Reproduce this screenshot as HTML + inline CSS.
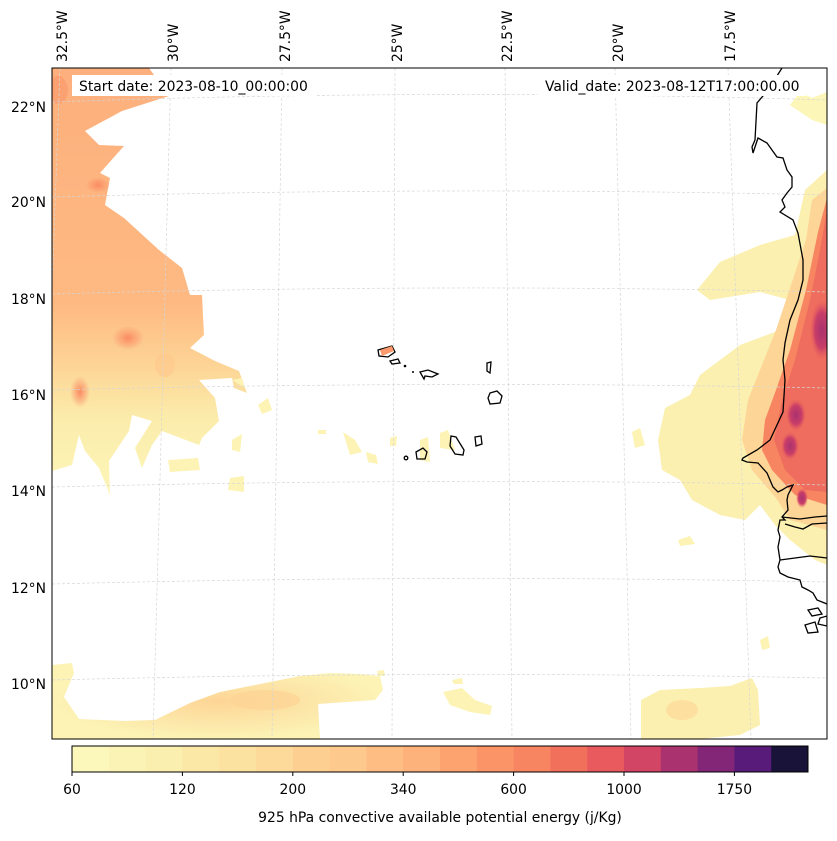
<!DOCTYPE html>
<html><head><meta charset="utf-8"><style>
body{margin:0;background:#fff;font-family:"Liberation Sans","DejaVu Sans",sans-serif}
svg text{font-family:"DejaVu Sans","Liberation Sans",sans-serif;font-size:13.9px;fill:#000}
</style></head><body>
<svg id="fig" width="837" height="836" viewBox="0 0 837 836" xmlns="http://www.w3.org/2000/svg">
<defs>
<clipPath id="mapclip"><rect x="52" y="68" width="775" height="671"/></clipPath>
<linearGradient id="leftg" x1="0" y1="68" x2="0" y2="495" gradientUnits="userSpaceOnUse">
<stop offset="0" stop-color="#fdb07d"/><stop offset="0.55" stop-color="#feb982"/><stop offset="0.7" stop-color="#fdd596"/><stop offset="0.82" stop-color="#fbecab"/><stop offset="1" stop-color="#fcf6b8"/>
</linearGradient>
<radialGradient id="hot1"><stop offset="0" stop-color="#fa8c64"/><stop offset="1" stop-color="#fa8c64" stop-opacity="0"/></radialGradient>
<radialGradient id="purp"><stop offset="0" stop-color="#a9326f"/><stop offset="0.6" stop-color="#c93e68"/><stop offset="1" stop-color="#e85a5e" stop-opacity="0"/></radialGradient>
<radialGradient id="botg"><stop offset="0" stop-color="#fdd596"/><stop offset="1" stop-color="#fcf3b5"/></radialGradient>
</defs>
<g clip-path="url(#mapclip)">
 <path fill="url(#leftg)" d="M52,68 L149,68 L169,96 L122,111 L85,131 L99,145 L124,146 L100,173 L110,178 L105,205 L124,218 L159,250 L182,268 L190,295 L202,295 L204,335 L190,348 L215,361 L239,371 L247,393 L234,388 L232,378 L199,380 L215,398 L219,421 L202,438 L199,445 L162,431 L152,445 L142,468 L135,448 L152,421 L132,415 L129,431 L109,461 L110,495 L99,468 L85,451 L79,435 L72,465 L52,471 Z"/>
 <ellipse cx="128" cy="338" rx="16" ry="12" fill="url(#hot1)"/>
 <ellipse cx="80" cy="392" rx="10" ry="16" fill="url(#hot1)"/>
 <ellipse cx="98" cy="185" rx="12" ry="8" fill="url(#hot1)"/>
 <ellipse cx="165" cy="365" rx="10" ry="12" fill="#fdc98c" opacity="0.7"/>
 <ellipse cx="58" cy="90" rx="10" ry="14" fill="#fb9a6c" opacity="0.7"/>
 <path fill="#fcf3b5" d="M168,460 L198,458 L200,470 L170,472 Z M230,478 L244,476 L244,492 L228,490 Z M258,405 L268,398 L272,410 L262,414 Z M232,440 L242,434 L240,452 L232,450 Z M318,430 L326,430 L326,434 L318,434 Z M343,432 L355,440 L362,452 L350,455 Z M366,452 L376,455 L378,464 L368,462 Z M390,438 L397,436 L396,446 L390,446 Z M232,380 L242,378 L245,388 Z"/>
 <path fill="#fcf3b5" d="M440,433 L448,430 L455,450 L440,448 Z M420,440 L428,437 L430,462 L420,460 Z M632,432 L640,428 L645,445 L635,448 Z M678,540 L690,536 L695,544 L680,546 Z M760,640 L768,636 L770,648 L762,650 Z"/>
 <path fill="url(#botg)" d="M52,665 L72,663 L74,673 L64,697 L79,719 L125,721 L155,720 L190,703 L220,692 L270,682 L300,676 L330,673 L360,674 L380,676 L383,690 L375,700 L318,704 L320,739 L52,739 Z"/>
 <ellipse cx="265" cy="700" rx="35" ry="10" fill="#fdd596" opacity="0.8"/>
 <path fill="#fcf3b5" d="M443,692 L462,688 L475,700 L492,706 L490,715 L470,712 L450,705 Z M452,680 L462,678 L463,684 L454,684 Z M377,671 L384,670 L385,676 L378,676 Z"/>
 <path fill="#fcf0b0" d="M641,700 L660,690 L700,688 L730,686 L752,678 L758,690 L760,725 L740,735 L700,739 L641,739 Z"/>
 <ellipse cx="682" cy="710" rx="16" ry="10" fill="#fcdc9c" opacity="0.8"/>
 <path fill="#fbf0b0" d="M827,170 L805,190 L795,235 L760,245 L720,262 L697,290 L710,300 L760,292 L790,300 L780,330 L740,345 L700,375 L690,395 L665,408 L658,440 L662,470 L680,480 L692,500 L720,515 L745,520 L760,505 L775,525 L790,540 L815,560 L827,565 Z"/>
 <path fill="#fcf6b8" d="M790,105 L800,92 L812,98 L827,92 L827,125 L812,120 Z"/>
 <path fill="#fdd596" d="M827,188 L812,200 L806,240 L792,282 L776,330 L760,370 L748,400 L742,440 L752,470 L776,498 L790,520 L827,530 Z"/>
 <path fill="#f88561" d="M827,198 L818,232 L806,290 L790,350 L776,390 L765,420 L762,450 L772,470 L795,495 L827,505 Z"/>
 <path fill="#ee6d5e" d="M827,210 L820,250 L810,300 L795,360 L782,400 L774,440 L785,470 L805,490 L827,492 Z"/>
 <ellipse cx="822" cy="330" rx="12" ry="30" fill="url(#purp)"/>
 <ellipse cx="796" cy="415" rx="10" ry="16" fill="url(#purp)"/>
 <ellipse cx="790" cy="446" rx="9" ry="14" fill="url(#purp)"/>
 <ellipse cx="802" cy="498" rx="6" ry="10" fill="url(#purp)"/>
</g>
<g fill="none" stroke="#d6d6d6" stroke-width="0.7" stroke-dasharray="3,2" clip-path="url(#mapclip)">
 <path d="M52,102 Q440,88 827,100"/><path d="M52,197 Q440,186 827,195"/><path d="M52,294 Q440,283 827,292"/><path d="M52,390 Q440,380 827,388"/><path d="M52,487 Q440,477 827,485"/><path d="M52,584 Q440,574 827,582"/><path d="M52,680 Q440,670 827,678"/>
 <path d="M171,68 L153,739"/><path d="M282,68 L272,739"/><path d="M395,68 L392,739"/><path d="M505,68 L512,739"/><path d="M615,68 L631,739"/><path d="M728,68 L751,739"/><path d="M60,68 L36,739"/>
</g>
<g fill="none" stroke="#000" stroke-width="1.3" clip-path="url(#mapclip)">
 <path d="M782,68 L768,90 L757,103 L755,140 L752,147 L753,153 L758,138 L767,143 L777,157 L783,158 L787,170 L792,177 L792,187 L787,193 L782,200 L785,207 L780,212 L793,220 L798,233 L803,260 L803,280 L798,300 L790,320 L785,343 L783,360 L785,380 L783,412 L770,440 L757,450 L743,458 L742,460 L747,462 L758,463 L767,473 L773,487 L778,492 L782,490 L787,487 L793,485 L788,495 L787,500 L788,510 L782,517 L785,520 L780,520 L778,530 L780,537 L778,547 L780,560 L778,567 L780,573 L788,577 L800,580 L802,587 L808,590 L813,593 L817,600 L827,604"/>
 <path d="M782,517 L800,519 L815,517 L827,516"/>
 <path d="M785,524 L795,527 L803,529 L812,524 L827,523"/>
 <path d="M780,560 L795,558 L810,556 L827,558"/>
 <path d="M808,610 L818,608 L822,614 L812,616 Z M820,618 L827,616 L827,626 L818,624 Z M805,625 L815,622 L818,632 L808,633 Z"/>
 <path d="M378,350 L392,346 L395,352 L388,357 L379,356 Z"/>
 <path d="M390,361 L398,359 L400,363 L392,364 Z"/>
 <path d="M420,372 L428,370 L438,374 L432,377 L425,376 L424,379 Z"/>
 <path d="M487,363 L491,362 L490,373 L487,371 Z"/>
 <path d="M490,393 L497,391 L502,396 L500,403 L490,404 L488,398 Z"/>
 <path d="M451,436 L456,437 L464,450 L463,455 L455,454 L450,446 Z"/>
 <path d="M475,437 L481,436 L482,444 L476,446 Z"/>
 <path d="M416,452 L423,448 L427,452 L425,459 L417,459 Z"/>
 <circle cx="406" cy="458" r="1.8"/>
</g>
<path d="M380,350 L392,346 L394,351 L382,356 Z" fill="#fb9a6c" clip-path="url(#mapclip)"/>
<circle cx="405" cy="366" r="1.3" fill="#000"/><circle cx="413" cy="372" r="1" fill="#000"/>
<rect x="52" y="68" width="775" height="671" fill="none" stroke="#000" stroke-width="1"/>
<rect x="72" y="75" width="244" height="21" fill="#fff"/>
<text x="79" y="91">Start date: 2023-08-10_00:00:00</text>
<rect x="538" y="75" width="268" height="21" fill="#fff"/>
<text x="545" y="91">Valid_date: 2023-08-12T17:00:00.00</text>
<g text-anchor="end">
<text x="46" y="112">22°N</text><text x="46" y="207">20°N</text><text x="46" y="304">18°N</text><text x="46" y="400">16°N</text><text x="46" y="496">14°N</text><text x="46" y="593">12°N</text><text x="46" y="689">10°N</text>
</g>
<g text-anchor="start">
<text transform="translate(67,62) rotate(-90)">32.5°W</text>
<text transform="translate(178,62) rotate(-90)">30°W</text>
<text transform="translate(290,62) rotate(-90)">27.5°W</text>
<text transform="translate(402,62) rotate(-90)">25°W</text>
<text transform="translate(512,62) rotate(-90)">22.5°W</text>
<text transform="translate(623,62) rotate(-90)">20°W</text>
<text transform="translate(735,62) rotate(-90)">17.5°W</text>
</g>
<g id="cbar"></g>
<text x="440" y="822" text-anchor="middle">925 hPa convective available potential energy (j/Kg)</text>
</svg>
<script>
const cbarColors = ["#fcf8bb","#fbf3b5","#fbefb0","#fbe8a6","#fce2a0","#fdda9a","#fdd092","#fec98d","#febd82","#feb27b","#fda36f","#fb9466","#f88561","#f1705c","#e85a5e","#d34565","#a9326f","#832678","#581b79","#1a1339"];
const tickLabels = ["60","120","200","340","600","1000","1750"];
const tickBins = [0,3,6,9,12,15,18];
const NS="http://www.w3.org/2000/svg";
const g=document.getElementById('cbar');
const x0=72,x1=808,y0=746,h=26;
const bw=(x1-x0)/cbarColors.length;
function bx(i){return x0+i*bw;}
cbarColors.forEach((c,i)=>{
 const r=document.createElementNS(NS,'rect');
 r.setAttribute('x',bx(i));r.setAttribute('y',y0);r.setAttribute('width',bw+0.5);r.setAttribute('height',h);r.setAttribute('fill',c);
 
 
 g.appendChild(r);
});
const fr=document.createElementNS(NS,'rect');
fr.setAttribute('x',x0);fr.setAttribute('y',y0);fr.setAttribute('width',x1-x0);fr.setAttribute('height',h);fr.setAttribute('fill','none');fr.setAttribute('stroke','#000');


g.appendChild(fr);
tickLabels.forEach((t,k)=>{
 const x=bx(tickBins[k]);
 const l=document.createElementNS(NS,'line');
 l.setAttribute('x1',x);l.setAttribute('x2',x);l.setAttribute('y1',y0+h);l.setAttribute('y2',y0+h+4);l.setAttribute('stroke','#000');
 
 
 g.appendChild(l);
 const tx=document.createElementNS(NS,'text');
 tx.setAttribute('x',x);tx.setAttribute('y',y0+h+22);tx.setAttribute('text-anchor','middle');tx.textContent=t;
 
 
 g.appendChild(tx);
});
</script>
</body></html>
